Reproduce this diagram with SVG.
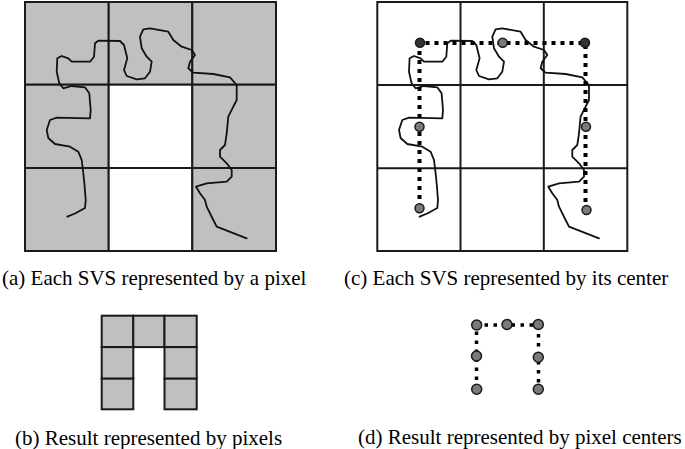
<svg xmlns="http://www.w3.org/2000/svg" width="685" height="449" viewBox="0 0 685 449">
<style>
.cell{fill:#c0c0c0;stroke:#1a1a1a;stroke-width:2}
.wcell{fill:#fff;stroke:#1a1a1a;stroke-width:2}
.gl{fill:none;stroke:#1a1a1a;stroke-width:2}
.curve{fill:none;stroke:#111;stroke-width:1.8;stroke-linejoin:round;stroke-linecap:round}
.dots{fill:none;stroke:#000;stroke-width:4;stroke-dasharray:4 5}
.dots2{fill:none;stroke:#000;stroke-width:3.5;stroke-dasharray:3.5 5.5}
.pt{fill:#7a7a7a;stroke:#1a1a1a;stroke-width:1.5}
.ptd{fill:#333;stroke:#1a1a1a;stroke-width:1.5}
.lbl{font-family:"Liberation Serif","Times New Roman",serif;font-size:21px;fill:#000}
</style>
<defs>
<path id="svs" class="curve" d="M67.3,216.7 L75,213.5 L85,208 L85.7,200 L84.5,185 L83.3,173 L81.7,160 L78.3,151.7 L70,146.7 L55,144 L48.3,138 L46.7,130 L50,120 L56.7,117.7 L90,118.3 L90.7,110 L89.3,93.3 L85,87.3 L71.7,86 L63.3,88.3 L59.3,83.3 L56.7,71.7 L57.3,58.3 L61.7,56 L68.3,58.3 L71.7,61.7 L90,61.7 L94,56.7 L95,43.3 L98.3,40.7 L120,41 L124,45 L127.3,58.3 L124,70 L126.7,76 L136.7,79.3 L145,78.3 L150,71.7 L151.7,61.7 L146.7,56.7 L141.7,48.3 L140,36.7 L143.3,29.3 L150,28.3 L168.3,31.7 L173.3,40 L181.7,46.7 L191.7,50 L195,55 L190,61.7 L188.3,68.3 L193.3,72.7 L213.3,74 L230,77.3 L236.7,85 L236.7,100 L233.3,106.7 L228.3,116.7 L226.7,133.3 L225,145 L220,150 L220,156.7 L226.7,163.3 L231.7,170 L231.7,176.7 L226.7,181.7 L206.7,183.3 L196,186.7 L200,193.3 L205,200 L206.7,206.7 L213.3,220 L216.7,226.7 L246.7,238.3"/>
</defs>

<g id="panel-a">
<rect class="cell" x="25" y="2" width="83.7" height="82.7"/>
<rect class="cell" x="108.7" y="2" width="83.6" height="82.7"/>
<rect class="cell" x="192.3" y="2" width="83.7" height="82.7"/>
<rect class="cell" x="25" y="84.7" width="83.7" height="83.3"/>
<rect class="wcell" x="108.7" y="84.7" width="83.6" height="83.3"/>
<rect class="cell" x="192.3" y="84.7" width="83.7" height="83.3"/>
<rect class="cell" x="25" y="168" width="83.7" height="83"/>
<rect class="wcell" x="108.7" y="168" width="83.6" height="83"/>
<rect class="cell" x="192.3" y="168" width="83.7" height="83"/>
<use href="#svs"/>
</g>

<g id="panel-c">
<rect class="gl" x="377.3" y="2" width="250" height="249"/>
<line class="gl" x1="460.5" y1="2" x2="460.5" y2="251"/>
<line class="gl" x1="543.8" y1="2" x2="543.8" y2="251"/>
<line class="gl" x1="377.3" y1="85" x2="627.3" y2="85"/>
<line class="gl" x1="377.3" y1="168.3" x2="627.3" y2="168.3"/>
<use href="#svs" transform="translate(352.3,0)"/>
</g>

<g id="connectors">
<path class="dots" d="M419.5,208 L419.5,43 L585.5,43 L585.5,210"/>
<path class="dots2" d="M476.5,389 L476.5,325 L538.5,325 L538.5,389"/>
</g>

<g id="centers-c">
<circle class="ptd" cx="420" cy="42.7" r="4.5"/>
<circle class="pt" cx="502.7" cy="42.7" r="4.5"/>
<circle class="ptd" cx="585" cy="42.7" r="4.5"/>
<circle class="pt" cx="419.5" cy="126.7" r="4.5"/>
<circle class="pt" cx="586" cy="126.7" r="4.5"/>
<circle class="pt" cx="419.5" cy="208.3" r="4.5"/>
<circle class="pt" cx="586.5" cy="210" r="4.5"/>
</g>

<g id="panel-b">
<rect class="cell" x="101.7" y="315.7" width="31.6" height="31.4"/>
<rect class="cell" x="133.3" y="315.7" width="31.2" height="31.4"/>
<rect class="cell" x="164.5" y="315.7" width="32.2" height="31.4"/>
<rect class="cell" x="101.7" y="347.1" width="31.6" height="31.6"/>
<rect class="cell" x="164.5" y="347.1" width="32.2" height="31.6"/>
<rect class="cell" x="101.7" y="378.7" width="31.6" height="30.6"/>
<rect class="cell" x="164.5" y="378.7" width="32.2" height="30.6"/>
</g>

<g id="panel-d">
<circle class="pt" cx="476.7" cy="325" r="5"/>
<circle class="pt" cx="507" cy="324.5" r="5"/>
<circle class="pt" cx="538.3" cy="324.5" r="5"/>
<circle class="pt" cx="476.5" cy="356" r="5"/>
<circle class="pt" cx="538.3" cy="357.3" r="5"/>
<circle class="pt" cx="476.7" cy="389.3" r="5"/>
<circle class="pt" cx="538.3" cy="389.3" r="5"/>
</g>

<g id="labels">
<text class="lbl" x="2" y="284.5">(a) Each SVS represented by a pixel</text>
<text class="lbl" x="344" y="284.5">(c) Each SVS represented by its center</text>
<text class="lbl" x="15" y="445">(b) Result represented by pixels</text>
<text class="lbl" x="358" y="444">(d) Result represented by pixel centers</text>
</g>
</svg>
